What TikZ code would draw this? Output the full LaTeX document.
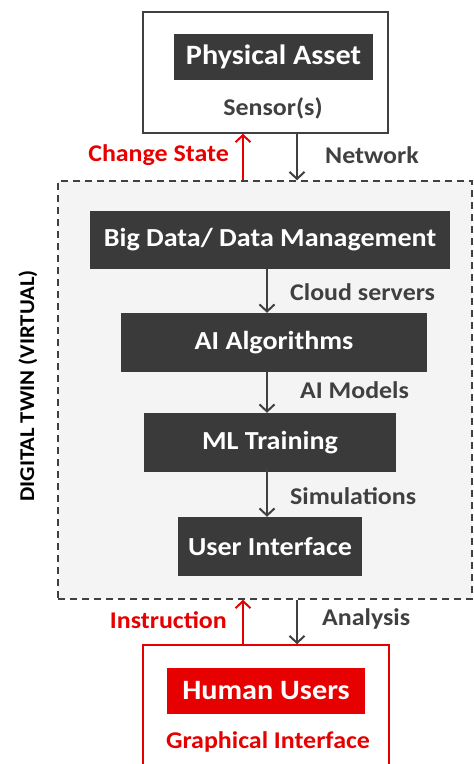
\documentclass[tikz,border=0pt]{standalone}
\usepackage{fontspec}
\setmainfont{Carlito}[FakeStretch=1.08]
\usetikzlibrary{arrows.meta}
\definecolor{dk}{HTML}{3A3A3A}
\definecolor{lbl}{HTML}{404040}
\definecolor{rd}{HTML}{E60000}
\definecolor{bgg}{HTML}{F4F4F4}
\begin{document}
\begin{tikzpicture}[x=1pt,y=-1pt,
  darkbox/.style={fill=dk,draw=none,text=white,font=\bfseries\fontsize{26}{30}\selectfont,inner sep=0pt},
  bigbox/.style={darkbox,font=\bfseries\fontsize{28}{32}\selectfont},
  lab/.style={text=lbl,font=\bfseries\fontsize{24}{28}\selectfont,inner sep=0pt},
  redlab/.style={text=rd,font=\bfseries\fontsize{24}{28}\selectfont,inner sep=0pt},
  arr/.style={draw=lbl,line width=2pt,-{Straight Barb[length=7pt,width=15pt,line width=2pt]}},
  rarr/.style={draw=rd,line width=2pt,-{Straight Barb[length=7pt,width=15pt,line width=2pt]}}]
\useasboundingbox (0,0) rectangle (474,764);
% containers
\node[draw=lbl,line width=1.5pt,fill=white,minimum width=245pt,minimum height=121pt,inner sep=0pt] (top) at (265.5,72.5) {};
\node[draw=lbl,line width=1.5pt,dash pattern=on 7pt off 5pt,fill=bgg,minimum width=414pt,minimum height=418pt,inner sep=0pt] (dt) at (265,390) {};
\node[draw=rd,line width=1.5pt,fill=white,minimum width=246pt,minimum height=124pt,inner sep=0pt] (bot) at (266,707) {};
% top
\node[bigbox,minimum width=199pt,minimum height=46pt] (pa) at (273.5,57) {Physical Asset};
\node[lab] (sen) at (273,108) {Sensor(s)};
% inner boxes
\node[darkbox,minimum width=360pt,minimum height=58pt] (bd) at (270,240) {Big Data/ Data Management};
\node[darkbox,minimum width=306pt,minimum height=59pt] (ai) at (274,342.5) {AI Algorithms};
\node[darkbox,minimum width=252pt,minimum height=59pt] (ml) at (270,442.5) {ML Training};
\node[darkbox,minimum width=184pt,minimum height=59pt] (ui) at (270,546.5) {User Interface};
% bottom
\node[bigbox,fill=rd,minimum width=198pt,minimum height=46pt] (hu) at (266,691) {Human Users};
\node[redlab] (gi) at (268,742) {Graphical Interface};
% side label
\node[font=\bfseries\fontsize{21}{25}\selectfont,text=black,rotate=90,inner sep=0pt] (side) at (28,386) {DIGITAL TWIN (VIRTUAL)};
% connector x positions
\coordinate (xl) at (243,0);
\coordinate (xr) at (297,0);
\coordinate (xm) at (267,0);
% arrows top
\draw[rarr] (dt.north -| xl) -- (top.south -| xl);
\draw[arr] (top.south -| xr) -- (dt.north -| xr);
\node[redlab,anchor=east] (cs) at (229,155) {Change State};
\node[lab,anchor=west] (nw) at (325,155) {Network};
% inner arrows
\draw[arr] (bd.south -| xm) -- (ai.north -| xm);
\node[lab,anchor=west] (cl) at (290,292) {Cloud servers};
\draw[arr] (ai.south -| xm) -- (ml.north -| xm);
\node[lab,anchor=west] (am) at (300,390) {AI Models};
\draw[arr] ([yshift=4pt]ml.south -| xm) -- (ui.north -| xm);
\node[lab,anchor=west] (si) at (290,496) {Simulations};
% bottom arrows
\draw[rarr] (bot.north -| xl) -- (dt.south -| xl);
\draw[arr] (dt.south -| xr) -- (bot.north -| xr);
\node[redlab,anchor=east] (ins) at (227,620) {Instruction};
\node[lab,anchor=west] (an) at (322,619) {Analysis};
\end{tikzpicture}
\end{document}
